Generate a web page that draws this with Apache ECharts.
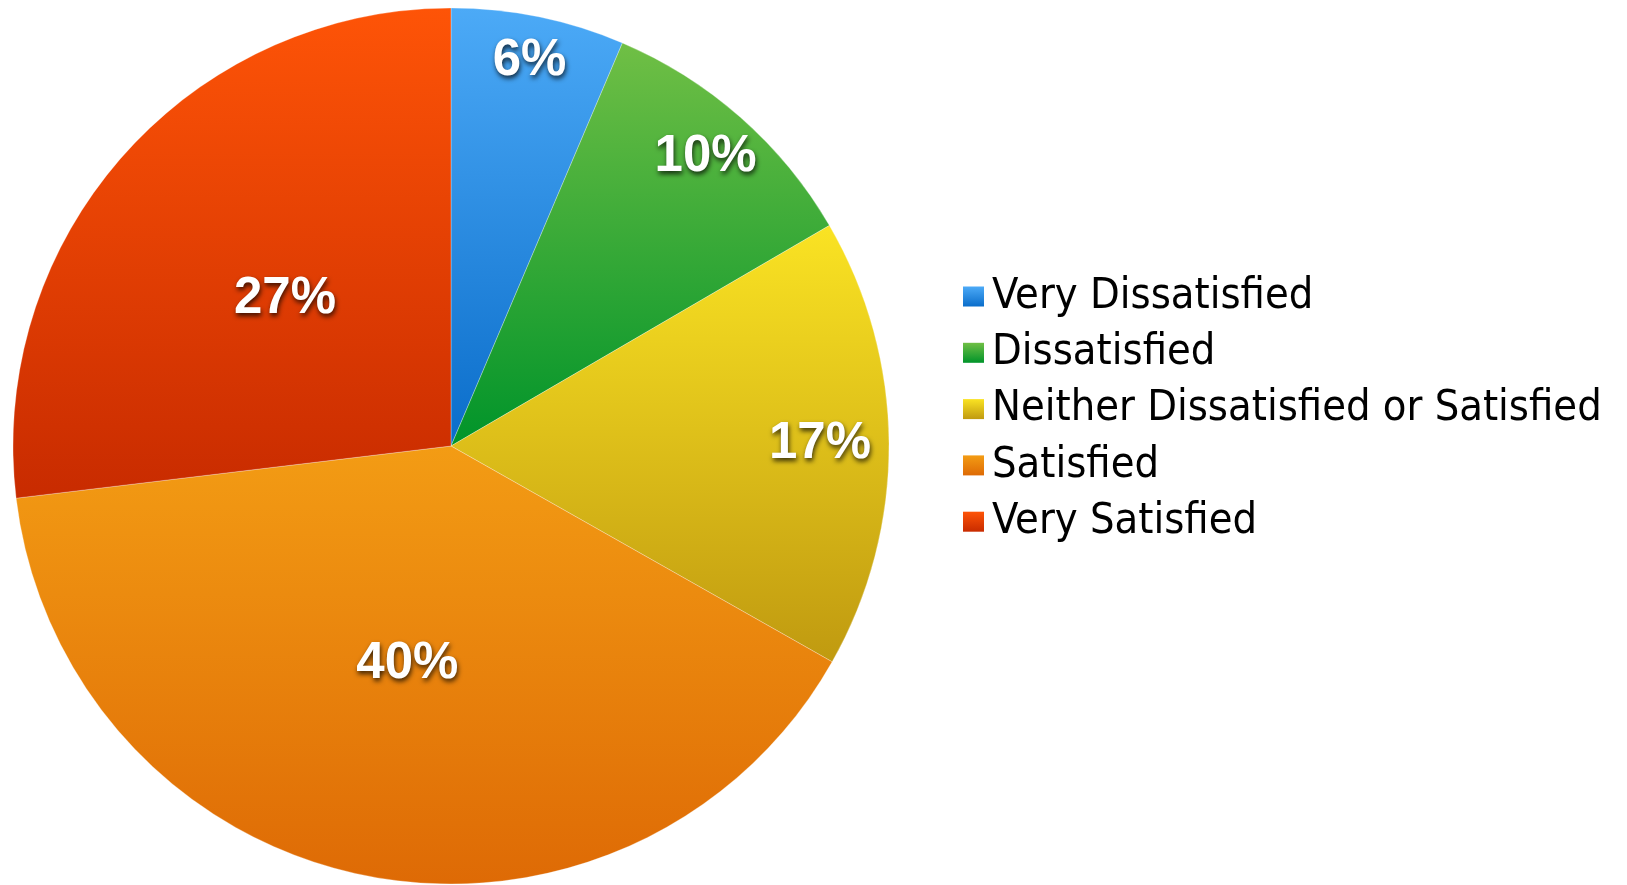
<!DOCTYPE html>
<html>
<head>
<meta charset="utf-8">
<script src="https://cdn.jsdelivr.net/npm/echarts@6/dist/echarts.min.js"></script>
<style>
html,body{margin:0;padding:0;background:#fff;}
#chart{width:1627px;height:885px;}
</style>
</head>
<body>
<div id="chart"></div>
<script>
// Data
const categories = ['Very Dissatisfied', 'Dissatisfied', 'Neither Dissatisfied or Satisfied', 'Satisfied', 'Very Satisfied'];
const shares = [6.4, 10.2, 16.6, 39.9, 26.9];

// Styles (gradient top / bottom per slice)
const gradTop = ['#4caaf7', '#70bf45', '#fae323', '#f39c14', '#fe5407'];
const gradBottom = ['#0a6dca', '#00942a', '#c09a10', '#de6a05', '#c82b00'];
// Which label ring each slice's label sits on
const labelRing = [1, 3, 2, 0, 0];

const chart = echarts.init(document.getElementById('chart'), null, {renderer: 'canvas'});

function grad(i) {
  return new echarts.graphic.LinearGradient(0, 0, 0, 1, [
    {offset: 0, color: gradTop[i]},
    {offset: 1, color: gradBottom[i]}
  ]);
}

const CENTER = [451, 446];
const R = 438;

const mainData = categories.map((c, i) => ({
  name: c, value: shares[i],
  itemStyle: {color: grad(i)}
}));

const labelStyle = {
  position: 'inside',
  formatter: p => Math.round(p.value) + '%',
  color: '#ffffff',
  fontFamily: '"Liberation Sans", Arial, sans-serif',
  fontWeight: 'bold',
  fontSize: 51,
  padding: [9, 0, 0, 0],
  textShadowColor: 'rgba(0,0,0,0.75)',
  textShadowBlur: 5,
  textShadowOffsetX: 1,
  textShadowOffsetY: 3
};

function labelSeries(ring, radius) {
  return {
    type: 'pie',
    center: CENTER,
    radius: radius,
    startAngle: 90,
    silent: true,
    animation: false,
    emphasis: {disabled: true},
    labelLine: {show: false},
    itemStyle: {color: 'rgba(0,0,0,0)', borderWidth: 0},
    data: categories.map((c, i) => ({
      name: c, value: shares[i],
      itemStyle: {color: 'rgba(0,0,0,0)'},
      label: Object.assign({show: labelRing[i] === ring}, labelStyle)
    })),
    z: 5
  };
}

const option = {
  backgroundColor: '#ffffff',
  animation: false,
  legend: {
    orient: 'vertical',
    left: 963,
    top: 275,
    padding: 0,
    icon: 'rect',
    itemWidth: 21,
    itemHeight: 20,
    itemGap: 13.3,
    selectedMode: false,
    data: categories,
    textStyle: {
      fontFamily: '"Liberation Sans Narrow", "DejaVu Sans Condensed", "Liberation Sans", sans-serif',
      fontSize: 43,
      lineHeight: 43,
      color: '#000000',
      padding: [0, 0, 0, 3]
    },
    itemStyle: {borderWidth: 0}
  },
  series: [
    {
      type: 'pie',
      center: CENTER,
      radius: [0, R],
      startAngle: 90,
      clockwise: true,
      label: {show: false},
      labelLine: {show: false},
      emphasis: {disabled: true},
      itemStyle: {borderColor: 'rgba(255,255,255,0.35)', borderWidth: 0.8},
      data: mainData
    },
    labelSeries(0, [0, R]),
    labelSeries(1, [342, R]),
    labelSeries(2, [294, R]),
    labelSeries(3, [326, R])
  ]
};

chart.setOption(option);
</script>
</body>
</html>
